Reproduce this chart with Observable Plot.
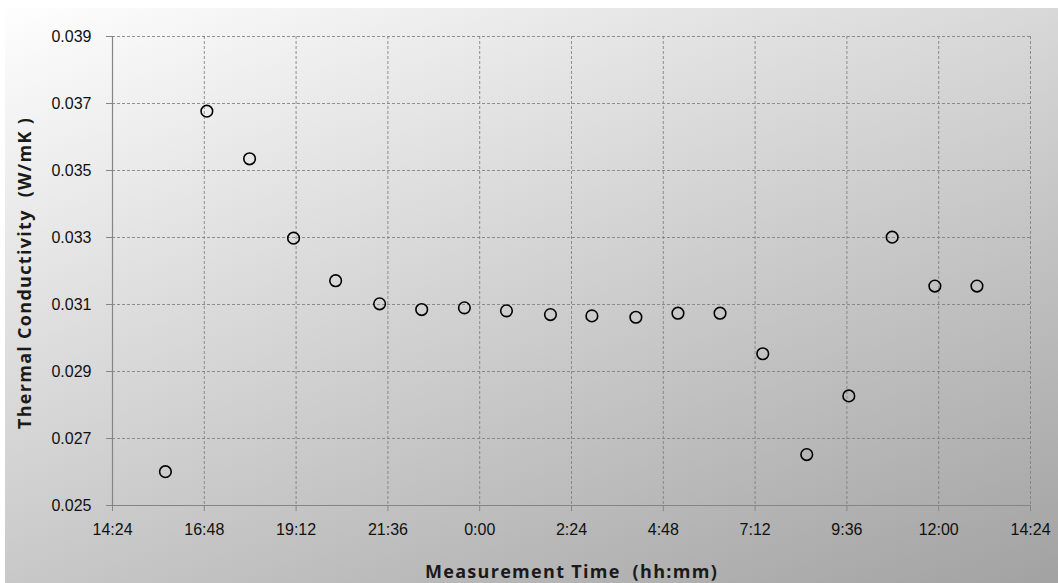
<!DOCTYPE html>
<html>
<head>
<meta charset="utf-8">
<script src="https://cdn.jsdelivr.net/npm/d3@7"></script>
<script src="https://cdn.jsdelivr.net/npm/@observablehq/plot@0.6"></script>
<style>
  html, body { margin: 0; padding: 0; background: #fff; }
</style>
</head>
<body>
<div id="chart"></div>
<script>
// ---- data ----
const times = ["15:47","16:52","17:59","19:08","20:14","21:23","22:29","23:36","0:42","1:51",
               "2:56","4:05","5:11","6:17","7:24","8:33","9:39","10:47","11:54","13:00"];
const conductivity = [0.02601,0.03677,0.03535,0.03298,0.03171,0.03102,0.03085,0.03090,0.03081,0.03070,
                      0.03066,0.03062,0.03074,0.03074,0.02953,0.02652,0.02827,0.03301,0.03155,0.03155];
const xTickLabels = ["14:24","16:48","19:12","21:36","0:00","2:24","4:48","7:12","9:36","12:00","14:24"];
const yTickValues = [0.025,0.027,0.029,0.031,0.033,0.035,0.037,0.039];
const xTitle = "Measurement Time  (hh:mm)";
const yTitle = "Thermal Conductivity  (W/mK )";

// convert a sequence of hh:mm strings into consecutive UTC dates (rolling over midnight)
function toDates(labels, startMinutes) {
  let day = 0, prev = -1;
  return labels.map((s, i) => {
    const [h, m] = s.split(":").map(Number);
    const mins = h * 60 + m;
    if (i === 0 && startMinutes != null && mins < startMinutes) day = 1;
    if (prev >= 0 && mins <= prev) day += 1;
    prev = mins;
    return new Date(Date.UTC(2000, 0, 1 + day, h, m));
  });
}
const xTicks = toDates(xTickLabels);
const pointDates = toDates(times, 14 * 60 + 24);
const data = times.map((t, i) => ({time: pointDates[i], value: conductivity[i]}));

const gridStyle = {stroke: "#7f7f7f", strokeOpacity: 0.85, strokeDasharray: "3,2", strokeWidth: 1};

const chart = Plot.plot({
  width: 1058,
  height: 583,
  marginLeft: 112,
  marginRight: 28,
  marginTop: 36,
  marginBottom: 78,
  style: {fontFamily: "'Liberation Sans', Arial, sans-serif", fontSize: "16px", color: "#111"},
  x: {type: "utc", domain: [xTicks[0], xTicks[xTicks.length - 1]]},
  y: {domain: [yTickValues[0], yTickValues[yTickValues.length - 1]]},
  marks: [
    Plot.gridX(xTicks, gridStyle),
    Plot.gridY(yTickValues, gridStyle),
    Plot.ruleX([xTicks[0]], {stroke: "#858585", strokeWidth: 1.2}),
    Plot.ruleY([yTickValues[0]], {stroke: "#858585", strokeWidth: 1.2}),
    Plot.axisX(xTicks, {
      tickFormat: d3.utcFormat("%-H:%M"), tickSize: 6, tickPadding: 12,
      stroke: "#858585", fill: "#111", fontSize: 16, label: null
    }),
    Plot.axisY(yTickValues, {
      tickFormat: d3.format(".3f"), tickSize: 6, tickPadding: 15,
      stroke: "#858585", fill: "#111", fontSize: 16, label: null
    }),
    Plot.dot(data, {x: "time", y: "value", r: 5.8, stroke: "#000", strokeWidth: 1.6, fill: "none"}),
    Plot.text([xTitle], {frameAnchor: "bottom", dy: 67, lineAnchor: "middle", textAnchor: "middle",
      fontWeight: "bold", fontSize: 18, fill: "#1a1a1a", fontFamily: "'Open Sans', sans-serif"}),
    Plot.text([yTitle], {frameAnchor: "left", dx: -87, dy: 2, rotate: -90, lineAnchor: "middle", textAnchor: "middle",
      fontWeight: "bold", fontSize: 18, fill: "#1a1a1a", fontFamily: "'Open Sans', sans-serif"})
  ]
});

chart.style.background = "#fff linear-gradient(159deg, #fefefe, #a2a2a2) 5px 8px / calc(100% - 5px) calc(100% - 8px) no-repeat";
d3.select(chart).selectAll('g[aria-label="text"] text').style("letter-spacing", "1.3px");
document.getElementById("chart").appendChild(chart);
</script>
</body>
</html>
